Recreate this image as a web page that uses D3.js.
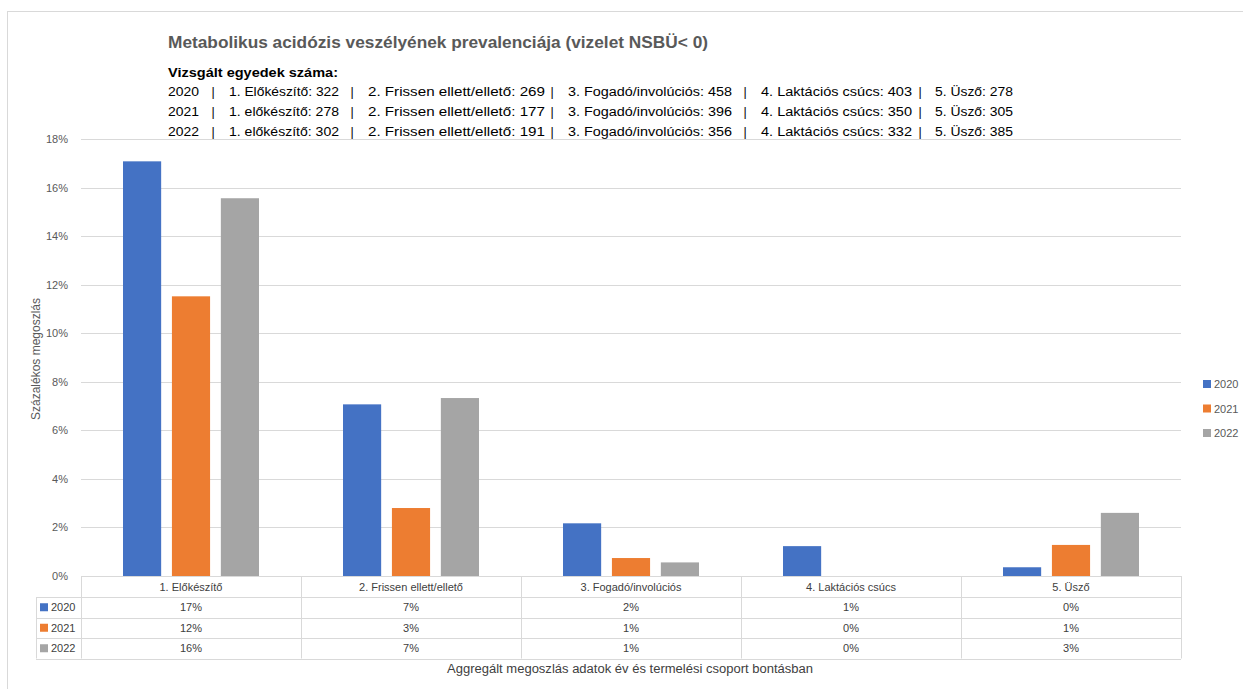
<!DOCTYPE html>
<html>
<head>
<meta charset="utf-8">
<script src="https://cdn.jsdelivr.net/npm/d3@7"></script>
<style>
  html, body { margin: 0; padding: 0; background: #fff; }
  svg { display: block; font-family: "Liberation Sans", Arial, sans-serif; }
</style>
</head>
<body>
<svg id="chart" width="1243" height="689"></svg>
<script>
// Production groups and years
const categories = ["1. Előkészítő", "2. Frissen ellett/ellető", "3. Fogadó/involúciós", "4. Laktációs csúcs", "5. Üsző"];
const years = ["2020", "2021", "2022"];

// Share of animals at risk (%), per group
const values2020 = [17.08, 7.07, 2.17, 1.23, 0.36];
const values2021 = [11.52, 2.80, 0.74, 0.00, 1.28];
const values2022 = [15.56, 7.33, 0.56, 0.00, 2.60];

// Y axis ticks (%)
const yTicks = [0, 2, 4, 6, 8, 10, 12, 14, 16, 18];

// Number of examined animals per year and group
const countLabels2020 = ["1. Előkészítő", "2. Frissen ellett/ellető", "3. Fogadó/involúciós", "4. Laktációs csúcs", "5. Üsző"];
const countLabelsLater = ["1. előkészítő", "2. Frissen ellett/ellető", "3. Fogadó/involúciós", "4. Laktációs csúcs", "5. Üsző"];
const counts2020 = [322, 269, 458, 403, 278];
const counts2021 = [278, 177, 396, 350, 305];
const counts2022 = [302, 191, 356, 332, 385];

const titleText = "Metabolikus acidózis veszélyének prevalenciája (vizelet NSBÜ< 0)";
const countsHeading = "Vizsgált egyedek száma:";
const yAxisTitle = "Százalékos megoszlás";
const xAxisTitle = "Aggregált megoszlás adatok év és termelési csoport bontásban";

const seriesColors = ["#4472C4", "#ED7D31", "#A5A5A5"];

const series = years.map((yr, i) => ({
  year: yr,
  color: seriesColors[i],
  values: [values2020, values2021, values2022][i]
}));
const countRows = [
  { year: "2020", labels: countLabels2020, counts: counts2020 },
  { year: "2021", labels: countLabelsLater, counts: counts2021 },
  { year: "2022", labels: countLabelsLater, counts: counts2022 }
];

const svg = d3.select("#chart");
const textGray = "#595959";
const gridColor = "#D9D9D9";

// chart frame (top and left edges)
svg.append("line").attr("x1", 7).attr("x2", 1243).attr("y1", 11.5).attr("y2", 11.5)
  .attr("stroke", gridColor);
svg.append("line").attr("x1", 7.5).attr("x2", 7.5).attr("y1", 11).attr("y2", 689)
  .attr("stroke", gridColor);

// title block
svg.append("text")
  .attr("x", 168).attr("y", 48)
  .attr("font-size", 17).attr("font-weight", "bold").attr("fill", textGray)
  .attr("textLength", 540).attr("lengthAdjust", "spacingAndGlyphs")
  .text(titleText);

svg.append("text")
  .attr("x", 168).attr("y", 77)
  .attr("font-size", 12.5).attr("font-weight", "bold").attr("fill", "#000")
  .attr("textLength", 170).attr("lengthAdjust", "spacingAndGlyphs")
  .text(countsHeading);

// each line: year | group: count | ...
const segStarts = [168, 229, 368, 568, 761, 935];
const segWidths = [31, 110, 177, 164, 151, 78];
const pipeXs = [213, 352, 552, 745, 920];
countRows.forEach((row, r) => {
  const yy = 96 + r * 20;
  const segs = [row.year].concat(row.labels.map((l, i) => `${l}: ${row.counts[i]}`));
  segs.forEach((s, i) => {
    svg.append("text")
      .attr("x", segStarts[i]).attr("y", yy)
      .attr("font-size", 12.5).attr("fill", "#000")
      .attr("textLength", segWidths[i]).attr("lengthAdjust", "spacingAndGlyphs")
      .text(s);
  });
  pipeXs.forEach(px => {
    svg.append("text")
      .attr("x", px).attr("y", yy).attr("text-anchor", "middle")
      .attr("font-size", 12.5).attr("fill", "#000").text("|");
  });
});

// scales
const plotLeft = 81, plotRight = 1181, plotTop = 139, plotBottom = 576;
const x0 = d3.scaleBand().domain(categories).range([plotLeft, plotRight]);
const x1 = d3.scaleBand().domain(years).range([42, 178]).paddingInner(0.22);
const y = d3.scaleLinear().domain([0, 18]).range([plotBottom, plotTop]);

// gridlines
svg.append("g").selectAll("line").data(yTicks).join("line")
  .attr("x1", plotLeft).attr("x2", plotRight)
  .attr("y1", d => Math.round(y(d)) + 0.5).attr("y2", d => Math.round(y(d)) + 0.5)
  .attr("stroke", gridColor).attr("stroke-width", 1);

// y axis labels
const yAxis = d3.axisLeft(y).tickValues(yTicks).tickSize(0).tickPadding(0)
  .tickFormat(d => d + "%");
const yg = svg.append("g").attr("transform", "translate(68,0)").call(yAxis);
yg.select(".domain").remove();
yg.selectAll("text").attr("font-size", 11).attr("fill", textGray)
  .attr("font-family", "Liberation Sans, Arial, sans-serif");

svg.append("text")
  .attr("transform", "translate(40,359) rotate(-90)")
  .attr("text-anchor", "middle").attr("font-size", 12).attr("fill", textGray)
  .attr("textLength", 122).attr("lengthAdjust", "spacingAndGlyphs")
  .text(yAxisTitle);

// bars
const groups = svg.append("g").selectAll("g").data(categories).join("g")
  .attr("transform", d => `translate(${x0(d)},0)`);
groups.selectAll("rect")
  .data((c, ci) => series.map(s => ({ year: s.year, color: s.color, v: s.values[ci] })))
  .join("rect")
  .attr("x", d => x1(d.year))
  .attr("width", x1.bandwidth())
  .attr("y", d => y(d.v))
  .attr("height", d => y(0) - y(d.v))
  .attr("fill", d => d.color);

// data table
const tableLeft = 36;
const headerTop = plotBottom, headerH = 21, rowH = 20.5;
const tb = svg.append("g").attr("stroke", gridColor).attr("stroke-width", 1).attr("fill", "none");
const tableBottom = headerTop + headerH + rowH * 3;
// horizontal lines
[headerTop, headerTop + headerH, headerTop + headerH + rowH, headerTop + headerH + 2 * rowH, tableBottom]
  .forEach((yy, i) => {
    tb.append("line")
      .attr("x1", i === 0 ? plotLeft : tableLeft).attr("x2", plotRight)
      .attr("y1", Math.round(yy) + 0.5).attr("y2", Math.round(yy) + 0.5);
  });
// vertical lines
tb.append("line").attr("x1", tableLeft + 0.5).attr("x2", tableLeft + 0.5)
  .attr("y1", headerTop + headerH).attr("y2", tableBottom);
categories.concat([null]).forEach((c, i) => {
  const xx = c ? x0(c) : plotRight;
  tb.append("line").attr("x1", Math.round(xx) + 0.5).attr("x2", Math.round(xx) + 0.5)
    .attr("y1", headerTop).attr("y2", tableBottom);
});

const tableText = "#404040";
categories.forEach(c => {
  svg.append("text")
    .attr("x", x0(c) + x0.bandwidth() / 2).attr("y", headerTop + headerH / 2 + 4)
    .attr("text-anchor", "middle").attr("font-size", 11).attr("fill", tableText)
    .text(c);
});
series.forEach((s, si) => {
  const rowTop = headerTop + headerH + si * rowH;
  svg.append("rect")
    .attr("x", 40).attr("y", rowTop + rowH / 2 - 4).attr("width", 8).attr("height", 8)
    .attr("fill", s.color);
  svg.append("text")
    .attr("x", 51).attr("y", rowTop + rowH / 2 + 4)
    .attr("font-size", 11).attr("fill", tableText).text(s.year);
  s.values.forEach((v, ci) => {
    svg.append("text")
      .attr("x", x0(categories[ci]) + x0.bandwidth() / 2).attr("y", rowTop + rowH / 2 + 4)
      .attr("text-anchor", "middle").attr("font-size", 11).attr("fill", tableText)
      .text(Math.round(v) + "%");
  });
});

svg.append("text")
  .attr("x", 630).attr("y", 673).attr("text-anchor", "middle")
  .attr("font-size", 12.5).attr("fill", tableText)
  .attr("textLength", 366).attr("lengthAdjust", "spacingAndGlyphs")
  .text(xAxisTitle);

// legend
series.forEach((s, i) => {
  const cy = 384 + i * 24.5;
  svg.append("rect").attr("x", 1203).attr("y", cy - 4).attr("width", 8).attr("height", 8)
    .attr("fill", s.color);
  svg.append("text").attr("x", 1214).attr("y", cy + 4)
    .attr("font-size", 11).attr("fill", textGray).text(s.year);
});
</script>
</body>
</html>
